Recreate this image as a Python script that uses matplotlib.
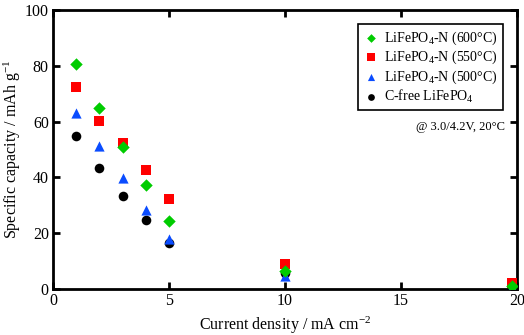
import matplotlib
matplotlib.use('Agg')
import matplotlib.pyplot as plt

plt.rcParams['font.family'] = ['Liberation Serif', 'DejaVu Serif']
plt.rcParams['mathtext.fontset'] = 'custom'
plt.rcParams['mathtext.rm'] = 'Liberation Serif'
plt.rcParams['mathtext.it'] = 'Liberation Serif:italic'

current = [1, 2, 3, 4, 5, 10, 19.8]
cap_600 = [80.5, 65, 50.8, 37.3, 24.3, 6.3, 1.2]
cap_550 = [72.3, 60.2, 52.2, 42.6, 32.1, 9.0, 2.0]
cap_500 = [63, 51.3, 39.8, 28.2, 18, 4.8, 0.6]
cap_free = [54.7, 43.3, 33.2, 24.6, 16.5, 5.6, 0.7]

fig = plt.figure(figsize=(5.24, 3.35), dpi=100)
ax = fig.add_axes([53/524, 1 - 289/335, (517 - 53)/524, (289 - 10)/335])

ax.scatter(current, cap_free, c='black', marker='o', s=48, lw=0, label='C-free LiFePO$_4$', zorder=3)
ax.scatter(current, cap_500, c='#0a4cff', marker='^', s=54, lw=0, label='LiFePO$_4$-N (500°C)', zorder=3)
ax.scatter(current, cap_600, c='#00cc00', marker='D', s=40, lw=0, label='LiFePO$_4$-N (600°C)', zorder=4)
ax.scatter(current, cap_550, c='#ff0000', marker='s', s=56, lw=0, label='LiFePO$_4$-N (550°C)', zorder=3)

ax.set_xlim(0, 20)
ax.set_ylim(0, 100)
ax.set_xticks([0, 5, 10, 15, 20])
ax.set_yticks([0, 20, 40, 60, 80, 100])
ax.tick_params(direction='in', top=True, right=True, length=5, width=2, labelsize=11.5, pad=3)
for s in ax.spines.values():
    s.set_linewidth(2)

ax.set_xlabel('Current density / mA cm$^{-2}$', fontsize=11.5, labelpad=4)
ax.set_ylabel('Specific capacity / mAh g$^{-1}$', fontsize=11.5, labelpad=1)

h, l = ax.get_legend_handles_labels()
order = [2, 3, 1, 0]
leg = ax.legend([h[i] for i in order], [l[i] for i in order], loc='upper right',
                bbox_to_anchor=(0.985, 0.975), fontsize=10, frameon=True, fancybox=False,
                edgecolor='black', framealpha=1, handletextpad=0.3, borderpad=0.4,
                labelspacing=0.15, handlelength=1.2, markerscale=0.7)
leg.get_frame().set_linewidth(1.2)

ax.text(0.975, 0.58, '@ 3.0/4.2V, 20°C', transform=ax.transAxes, ha='right', va='center', fontsize=9)

fig.savefig('out.png', dpi=100)
